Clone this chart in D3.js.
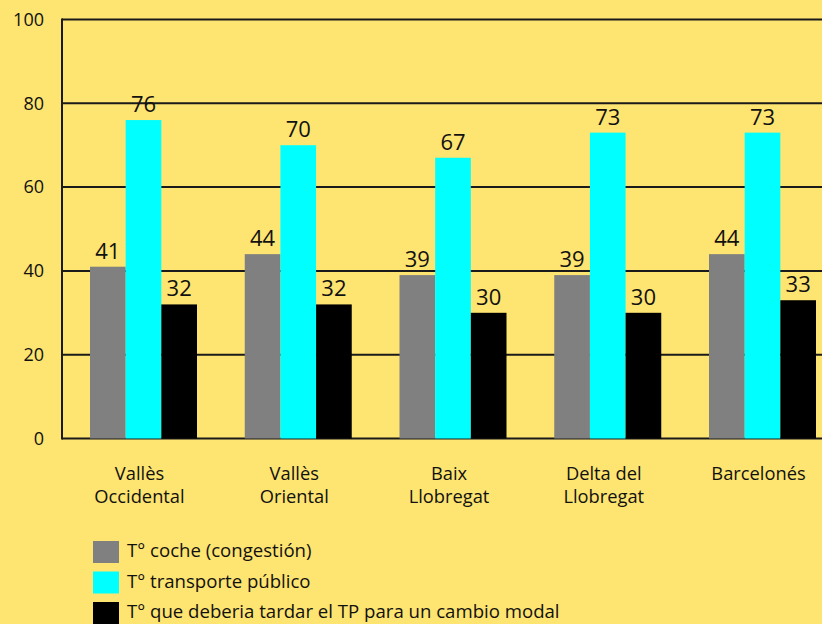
<!DOCTYPE html>
<html><head><meta charset="utf-8">
<script src="https://cdn.jsdelivr.net/npm/d3@7"></script>
<style>
html,body{margin:0;padding:0;background:#FEE470;}
svg{display:block;}
text{font-family:"Open Sans",sans-serif;fill:#111;}
</style></head>
<body>
<script>
const categories = [["Vallès","Occidental"],["Vallès","Oriental"],["Baix","Llobregat"],["Delta del","Llobregat"],["Barcelonés"]];
const seriesNames = ["T° coche (congestión)","T° transporte público","T° que deberia tardar el TP para un cambio modal"];
const seriesColors = ["#808080","#00FFFF","#000000"];
const cocheValues = [41,44,39,39,44];
const transporteValues = [76,70,67,73,73];
const cambioValues = [32,32,30,30,33];
const yTicks = [0,20,40,60,80,100];

const W=822,H=624;
const svg=d3.select("body").append("svg").attr("width",W).attr("height",H);
svg.append("rect").attr("width",W).attr("height",H).attr("fill","#FEE470");

const keys = categories.map(c=>c.join(" "));
const series=[cocheValues,transporteValues,cambioValues];
const y=d3.scaleLinear().domain([0,100]).range([438.5,19.5]);
const x0=d3.scaleBand().domain(keys).range([90,816]).paddingInner(0.3086).paddingOuter(0);
const x1=d3.scaleBand().domain([0,1,2]).range([0,x0.bandwidth()]).padding(0);

// gridlines
const axisX=62;
svg.append("g").selectAll("line").data(yTicks).join("line")
  .attr("x1",axisX).attr("x2",W).attr("y1",d=>y(d)).attr("y2",d=>y(d))
  .attr("stroke","#1a1a1a").attr("stroke-width",2);
svg.append("line").attr("x1",axisX).attr("x2",axisX).attr("y1",y(100)-1).attr("y2",y(0)+1)
  .attr("stroke","#1a1a1a").attr("stroke-width",2);
// tick labels
svg.append("g").selectAll("text").data(yTicks).join("text")
  .attr("x",44).attr("y",d=>y(d)).attr("dy","0.35em").attr("text-anchor","end")
  .style("font-size","18px").text(d=>d);

// bars
const groups=svg.append("g").selectAll("g").data(keys).join("g")
  .attr("transform",d=>`translate(${x0(d)},0)`);
groups.each(function(k,i){
  const g=d3.select(this);
  series.forEach((s,j)=>{
    g.append("rect").attr("x",x1(j)).attr("width",x1.bandwidth()).attr("y",y(s[i])).attr("height",y(0)-y(s[i]))
      .attr("fill",seriesColors[j]);
    g.append("text").attr("x",x1(j)+x1.bandwidth()/2).attr("y",y(s[i])-8).attr("text-anchor","middle")
      .style("font-size","22px").text(s[i]);
  });
  // category label
  const t=g.append("text").attr("text-anchor","middle").style("font-size","18.3px");
  categories[i].forEach((line,li)=>{
    t.append("tspan").attr("x",x0.bandwidth()/2-4).attr("y",480+li*23).text(line);
  });
});

// legend
const leg=svg.append("g").selectAll("g").data(seriesNames).join("g")
  .attr("transform",(d,i)=>`translate(93,${541+i*30.5})`);
leg.append("rect").attr("width",26).attr("height",22).attr("fill",(d,i)=>seriesColors[i]);
leg.append("text").attr("x",34).attr("y",16).style("font-size","18.6px").text(d=>d);
</script>
</body></html>
